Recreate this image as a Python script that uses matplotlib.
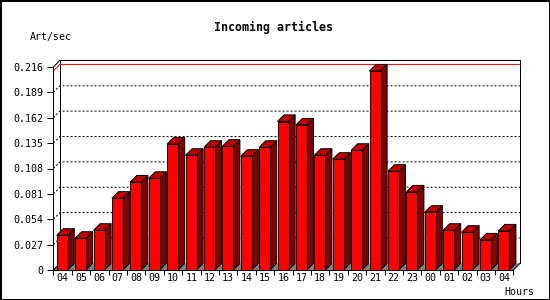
import matplotlib.pyplot as plt
from matplotlib.patches import Polygon, Rectangle

# --- data ---
hours = ['04', '05', '06', '07', '08', '09', '10', '11', '12', '13', '14', '15',
         '16', '17', '18', '19', '20', '21', '22', '23', '00', '01', '02', '03', '04']
rates = [0.0369, 0.0337, 0.0422, 0.0763, 0.0936, 0.0975, 0.1340, 0.1220, 0.1305,
         0.1316, 0.1210, 0.1305, 0.1580, 0.1543, 0.1220, 0.1178, 0.1273, 0.2117,
         0.1050, 0.0830, 0.0614, 0.0422, 0.0401, 0.0319, 0.0415]
y_ticks = [0, 0.027, 0.054, 0.081, 0.108, 0.135, 0.162, 0.189, 0.216]
y_labels = ['0', '0.027', '0.054', '0.081', '0.108', '0.135', '0.162', '0.189', '0.216']

FRONT = '#ff0000'
TOP = '#c00000'
SIDE = '#800000'
FLOOR = '#808080'
PX = 0.72  # one pixel in points at dpi 100
MONO = 'DejaVu Sans Mono'

fig = plt.figure(figsize=(5.5, 3), dpi=100)
ax = fig.add_axes([53.3 / 550, 30 / 300, 460 / 550, 203 / 300])
n = len(rates)
ymax = y_ticks[-1]
ax.set_xlim(0, n)
ax.set_ylim(0, ymax)
ax.patch.set_visible(False)

# depth of the fake 3d, in data units (about 6.6 px each way)
DX = 6.6 / (460 / n)
DY = 6.6 * ymax / 203
bar_off = 3.4 / (460 / n)
bar_w = 11 / (460 / n)

# back wall and left wall edges
ax.plot([DX, DX, n + DX, n + DX], [DY, ymax + DY, ymax + DY, DY],
        color='black', lw=PX, clip_on=False, zorder=2)
ax.plot([0, DX], [ymax, ymax + DY], color='black', lw=PX, clip_on=False, zorder=2)
ax.plot([0, DX], [0, DY], color='black', lw=PX, clip_on=False, zorder=2)

# dotted grid on the walls
for t in y_ticks[1:-1]:
    ax.plot([0, DX, n + DX], [t, t + DY, t + DY], color='black', lw=PX,
            linestyle=(0, (2, 2)), clip_on=False, zorder=2)

# max line
vmax = max(rates)
ax.plot([0, DX, n + DX], [vmax, vmax + DY, vmax + DY], color='red', lw=PX,
        clip_on=False, zorder=2)

# floor
ax.add_patch(Polygon([(0, 0), (n, 0), (n + DX, DY), (DX, DY)], closed=True,
                     fc=FLOOR, ec='none', clip_on=False, zorder=1))
ax.plot([n, n + DX], [0, DY], color='black', lw=PX, clip_on=False, zorder=2)

# bars
for i, v in enumerate(rates):
    x0 = i + bar_off
    x1 = x0 + bar_w
    ax.add_patch(Polygon([(x1, 0), (x1 + DX, DY), (x1 + DX, v + DY), (x1, v)],
                         closed=True, fc=SIDE, ec='black', lw=PX, clip_on=False, zorder=3))
    ax.add_patch(Polygon([(x0, v), (x1, v), (x1 + DX, v + DY), (x0 + DX, v + DY)],
                         closed=True, fc=TOP, ec='black', lw=PX, clip_on=False, zorder=3))
    ax.add_patch(Rectangle((x0, 0), bar_w, v, fc=FRONT, ec='black', lw=PX,
                           clip_on=False, zorder=4))

# axes
for s in ['top', 'right']:
    ax.spines[s].set_visible(False)
for s in ['left', 'bottom']:
    ax.spines[s].set_linewidth(PX)
    ax.spines[s].set_zorder(5)

ax.set_yticks(y_ticks)
ax.set_yticklabels(y_labels, fontfamily=MONO, fontsize=7.2)
ax.tick_params(axis='y', length=6.5 * PX, width=PX, pad=3 * PX)

ax.set_xticks(range(n + 1))
ax.set_xticklabels([''] * (n + 1))
ax.tick_params(axis='x', which='major', length=4.5 * PX, width=PX)
ax.set_xticks([i + 0.5 for i in range(n)], minor=True)
ax.set_xticklabels(hours, minor=True, fontfamily=MONO, fontsize=7.2)
ax.tick_params(axis='x', which='minor', length=0, pad=3 * PX)

fig.text(273.5 / 550, 1 - 27 / 300, 'Incoming articles', fontfamily=MONO,
         fontweight='bold', fontsize=8.4, ha='center', va='center')
fig.text(50.5 / 550, 1 - 37 / 300, 'Art/sec', fontfamily=MONO, fontsize=7.2,
         ha='center', va='center')
fig.text(519 / 550, 1 - 292 / 300, 'Hours', fontfamily=MONO, fontsize=7.2,
         ha='center', va='center')

# outer frame
fig.add_artist(Rectangle((0, 0), 1, 1, transform=fig.transFigure, fill=False,
                         ec='black', lw=3 * PX))

fig.savefig('out.png', dpi=100)
